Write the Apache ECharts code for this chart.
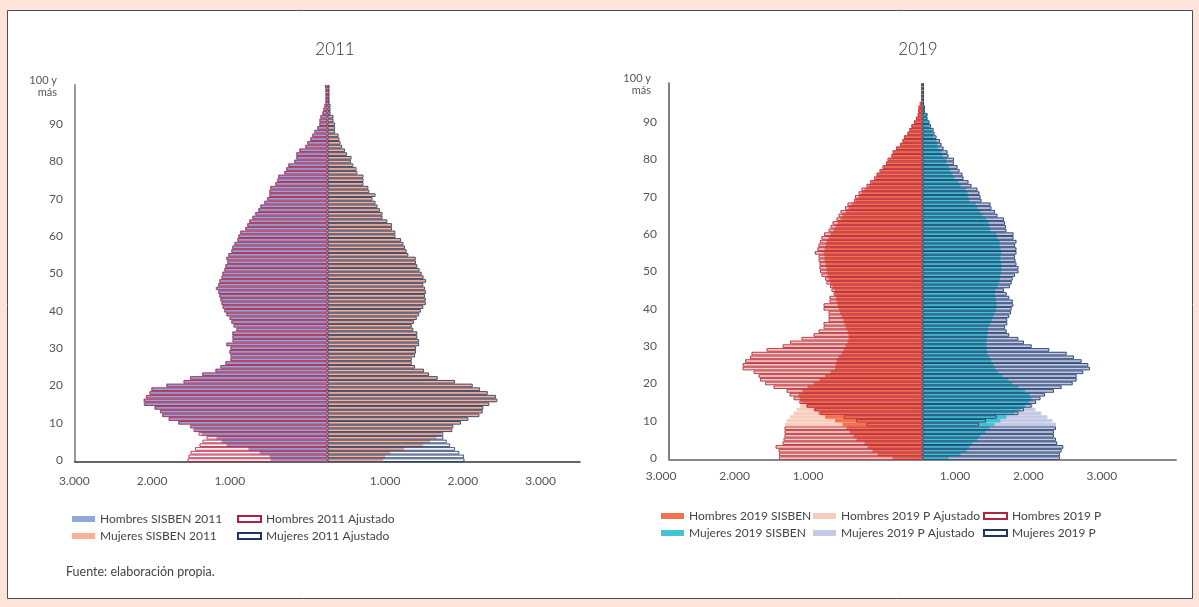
<!DOCTYPE html>
<html><head><meta charset="utf-8">
<script src="https://cdn.jsdelivr.net/npm/echarts@6/dist/echarts.min.js"></script>
<style>html,body{margin:0;padding:0;background:#fde3da;}#c{width:1199px;height:607px;}</style>
</head><body><div id="c"></div>
<script>
// Categories: single years of age 0..100 ("100 y más")
const ages = [];
for (let a = 0; a <= 100; a++) ages.push(String(a));

const titles = ['2011', '2019'];
const xTickValues = [-3000, -2000, -1000, 1000, 2000, 3000];

// ---- 2011 (ages 0..100) ----
const hombresSisben2011 = [734,746,875,1017,1300,1364,1429,1622,1712,1763,
 1925,2040,2130,2150,2230,2365,2370,2330,2290,2270,
 2075,1850,1765,1615,1445,1380,1318,1250,1245,1265,
 1250,1305,1220,1225,1228,1175,1205,1240,1258,1302,
 1330,1348,1366,1380,1395,1410,1440,1408,1392,1366,
 1355,1330,1318,1292,1305,1280,1240,1228,1200,1163,
 1150,1126,1062,1036,1010,970,935,895,868,818,
 780,752,752,740,675,652,636,560,535,508,
 432,405,405,366,290,262,225,198,172,134,
 108,106,92,68,54,42,28,28,26,26,32];
const hombres2011Ajustado = [1802,1789,1763,1705,1647,1609,1557,1660,1725,1770,
 1918,2046,2124,2156,2220,2355,2362,2336,2291,2265,
 2072,1853,1770,1609,1441,1377,1313,1248,1248,1261,
 1248,1300,1223,1223,1223,1171,1210,1236,1261,1300,
 1326,1351,1364,1377,1390,1403,1429,1403,1390,1364,
 1351,1326,1313,1287,1300,1274,1236,1223,1197,1158,
 1145,1120,1055,1030,1004,965,927,888,862,811,
 772,746,746,734,669,644,631,553,528,502,
 425,399,399,360,283,257,219,193,167,129,
 103,103,90,64,51,39,26,26,26,26,32];
const mujeresSisben2011 = [716,740,811,985,1233,1319,1403,1467,1595,1612,
 1710,1805,1948,1990,2000,2075,2178,2160,2055,1958,
 1862,1636,1412,1300,1236,1120,1080,1078,1120,1134,
 1134,1172,1172,1150,1150,1098,1080,1108,1142,1172,
 1195,1228,1258,1258,1250,1262,1250,1228,1262,1230,
 1205,1178,1150,1132,1128,1034,1012,990,968,938,
 866,864,820,820,760,698,698,666,634,606,
 566,604,525,512,450,450,448,370,360,318,
 288,295,238,212,176,156,144,132,88,88,
 88,70,70,34,34,34,22,22,22,22,22];
const mujeres2011Ajustado = [1763,1757,1696,1641,1577,1534,1490,1490,1606,1619,
 1718,1812,1954,1997,2005,2082,2185,2169,2062,1963,
 1869,1641,1418,1306,1242,1126,1084,1084,1126,1139,
 1139,1178,1178,1156,1156,1104,1084,1113,1148,1178,
 1200,1233,1264,1264,1255,1268,1255,1233,1268,1236,
 1212,1184,1156,1139,1135,1040,1019,997,976,946,
 875,873,830,830,770,708,708,676,644,618,
 579,618,538,525,463,463,463,384,373,332,
 302,309,251,225,187,167,154,142,97,97,
 97,77,77,39,39,39,26,26,26,26,26];

// ---- 2019 (ages 0..100) ----
const hombres2019Sisben = [408,612,680,748,789,898,938,986,1034,1088,
 1190,1326,1414,1482,1578,1646,1673,1686,1632,1564,
 1482,1401,1326,1251,1190,1183,1170,1142,1102,1074,
 1047,1020,1006,1006,1020,1047,1061,1074,1102,1122,
 1142,1156,1170,1176,1190,1197,1224,1258,1278,1292,
 1306,1306,1319,1333,1333,1346,1333,1319,1306,1278,
 1251,1210,1183,1156,1115,1088,1047,1006,966,911,
 870,830,789,734,694,639,612,571,530,490,
 462,422,394,354,299,272,245,204,177,150,
 116,88,68,61,61,41,14,14,14,14,14];
const hombres2019PAjustado = [1952,1952,1958,1999,1904,1890,1877,1877,1877,1870,
 1850,1802,1754,1714,1666,1686,1754,1809,1850,2026,
 2142,2210,2230,2298,2448,2448,2414,2346,2326,2122,
 1904,1802,1646,1482,1414,1346,1346,1278,1278,1278,
 1346,1346,1265,1265,1210,1238,1258,1306,1326,1374,
 1394,1401,1401,1414,1414,1475,1440,1420,1400,1380,
 1340,1278,1251,1224,1170,1142,1115,1054,1020,932,
 918,870,830,762,714,660,626,585,544,496,
 476,422,408,360,306,272,252,204,177,150,
 116,88,61,54,41,27,20,20,20,20,20];
const hombres2019P = [1952,1952,1958,1999,1904,1890,1877,1877,1877,762,
 904,1074,1387,1469,1578,1673,1754,1809,1850,2026,
 2142,2210,2230,2298,2448,2448,2414,2346,2326,2122,
 1904,1802,1646,1482,1414,1346,1346,1278,1278,1278,
 1346,1346,1265,1265,1210,1238,1258,1306,1326,1374,
 1394,1401,1401,1414,1414,1462,1428,1414,1394,1374,
 1340,1278,1251,1224,1170,1142,1115,1054,1020,932,
 918,870,830,762,714,660,626,585,544,496,
 476,422,408,360,306,272,252,204,177,150,
 116,88,61,54,41,27,20,20,20,20,20];
const mujeres2019Sisben = [354,517,598,639,680,748,789,857,911,979,
 1061,1142,1251,1333,1401,1455,1482,1455,1394,1306,
 1224,1170,1088,1034,993,966,938,911,884,877,
 870,870,877,884,891,898,925,945,966,986,
 1006,1006,1006,993,986,993,1020,1040,1054,1061,
 1074,1074,1074,1061,1061,1074,1061,1047,1054,1020,
 1006,925,911,898,870,816,789,748,721,639,
 626,612,585,517,490,435,408,381,360,326,
 326,272,258,218,204,190,150,136,122,95,
 82,61,61,27,27,20,14,14,14,14,14];
const mujeres2019PAjustado = [1870,1870,1893,1915,1833,1816,1788,1788,1816,1816,
 1768,1700,1618,1537,1496,1550,1605,1666,1788,1893,
 2043,2097,2097,2187,2278,2255,2165,2060,1961,1724,
 1485,1380,1303,1180,1145,1122,1153,1153,1180,1204,
 1213,1235,1227,1180,1145,1108,1190,1213,1227,1258,
 1306,1306,1278,1265,1258,1278,1278,1258,1278,1238,
 1238,1142,1136,1122,1108,1020,986,938,925,802,
 789,775,748,666,626,558,544,503,476,428,
 428,354,340,286,258,238,190,163,150,116,
 95,68,68,34,34,20,20,20,20,20,20];
const mujeres2019P = [1870,1870,1893,1915,1833,1816,1788,1788,1816,768,
 864,1009,1303,1380,1485,1544,1605,1666,1788,1893,
 2043,2097,2097,2187,2278,2255,2165,2060,1961,1724,
 1485,1380,1303,1180,1145,1122,1153,1153,1180,1204,
 1213,1235,1227,1180,1145,1108,1190,1213,1227,1258,
 1306,1306,1278,1265,1258,1278,1278,1258,1278,1238,
 1238,1142,1136,1122,1108,1020,986,938,925,802,
 789,775,748,666,626,558,544,503,476,428,
 428,354,340,286,258,238,190,163,150,116,
 95,68,68,34,34,20,20,20,20,20,20];

const FONT = 'Lato';
const neg = arr => arr.map(v => -v);

function xFmt(v) {
  if (xTickValues.indexOf(v) < 0) return '';
  return (Math.abs(v) / 1000) + '.000';
}
function yFmt(v, i) {
  return i === 100 ? '{t|100 y}\n{t|más}' : v;
}

function xAxis(grid, lim, step, pad, margin, lineColor, lineWidth) {
  return {
    gridIndex: grid, type: 'value', min: -lim, max: lim, interval: step,
    axisLine: { show: true, lineStyle: { color: lineColor, width: lineWidth } },
    axisTick: { show: false }, splitLine: { show: false },
    axisLabel: { formatter: xFmt, color: '#555', fontSize: 12, fontFamily: FONT,
      margin: margin, padding: [0, pad, 0, 0] }
  };
}
function yAxis(grid, lineColor, lineWidth) {
  return {
    gridIndex: grid, type: 'category', data: ages,
    axisLine: { show: true, onZero: false, lineStyle: { color: lineColor, width: lineWidth } },
    axisTick: { show: false }, splitLine: { show: false },
    axisLabel: { interval: 9, formatter: yFmt, color: '#555', fontSize: 12, fontFamily: FONT, margin: 12,
      rich: { t: { fontSize: 11, fontFamily: FONT, color: '#555', lineHeight: 12, padding: [0, 6, 0, 0] } } }
  };
}
function bar(name, grid, data, fill, stroke) {
  const s = {
    name: name, type: 'bar', xAxisIndex: grid, yAxisIndex: grid, data: data,
    barGap: '-100%', barCategoryGap: '6%', silent: true,
    itemStyle: { color: fill }
  };
  if (stroke) {
    s.itemStyle = { color: 'rgba(255,255,255,0)', borderColor: stroke, borderWidth: 0.85 };
  }
  return s;
}
function legend(left, top, names) {
  return {
    orient: 'vertical', left: left, top: top, padding: 0, itemGap: 5,
    itemWidth: 23, itemHeight: 6, icon: 'rect', selectedMode: false, data: names,
    textStyle: { fontSize: 12, color: '#444', fontFamily: FONT }
  };
}

const C = {
  h11: '#8ea7dc', m11: '#f9b297', h11o: '#b81c40', m11o: '#1e3766',
  h19: '#f3714f', m19: '#3fc3d5', h19a: '#f9cdbd', m19a: '#c4cae5', h19o: '#b3243f', m19o: '#1e3766'
};

const option = {
  animation: false,
  backgroundColor: '#fde3da',
  graphic: [
    { type: 'rect', shape: { x: 7.5, y: 10.5, width: 1185, height: 588 },
      style: { fill: '#ffffff', stroke: '#4d4d4d', lineWidth: 1 }, z: -10, silent: true },
    { type: 'text', left: 66, top: 565, silent: true,
      style: { text: 'Fuente: elaboración propia.', fill: '#444', fontSize: 12.5, fontFamily: FONT } }
  ],
  title: [
    { text: titles[0], left: 330, top: 36, textAlign: 'center',
      textStyle: { fontSize: 17, fontWeight: 300, color: '#333', fontFamily: FONT } },
    { text: titles[1], left: 913, top: 36, textAlign: 'center',
      textStyle: { fontSize: 17, fontWeight: 300, color: '#333', fontFamily: FONT } }
  ],
  grid: [
    { left: 75, right: 619, top: 85, bottom: 145 },
    { left: 669, right: 23, top: 83, bottom: 147 }
  ],
  xAxis: [ xAxis(0, 3250, 250, 40, 13, '#333', 1.5), xAxis(1, 3450, 50, 82, 10, '#888', 2) ],
  yAxis: [ yAxis(0, '#999', 2), yAxis(1, '#555', 1.5) ],
  legend: [
    legend(72, 513, ['Hombres SISBEN 2011', 'Mujeres SISBEN 2011']),
    legend(237, 513, ['Hombres 2011 Ajustado', 'Mujeres 2011 Ajustado']),
    legend(661, 510, ['Hombres 2019 SISBEN', 'Mujeres 2019 SISBEN']),
    legend(813, 510, ['Hombres 2019 P Ajustado', 'Mujeres 2019 P Ajustado']),
    legend(983, 510, ['Hombres 2019 P', 'Mujeres 2019 P'])
  ],
  series: [
    bar('Hombres SISBEN 2011', 0, neg(hombresSisben2011), C.h11),
    bar('Mujeres SISBEN 2011', 0, mujeresSisben2011, C.m11),
    bar('Hombres 2011 Ajustado', 0, neg(hombres2011Ajustado), null, C.h11o),
    bar('Mujeres 2011 Ajustado', 0, mujeres2011Ajustado, null, C.m11o),
    bar('Hombres 2019 P Ajustado', 1, neg(hombres2019PAjustado), C.h19a),
    bar('Mujeres 2019 P Ajustado', 1, mujeres2019PAjustado, C.m19a),
    bar('Hombres 2019 SISBEN', 1, neg(hombres2019Sisben), C.h19),
    bar('Mujeres 2019 SISBEN', 1, mujeres2019Sisben, C.m19),
    bar('Hombres 2019 P', 1, neg(hombres2019P), null, C.h19o),
    bar('Mujeres 2019 P', 1, mujeres2019P, null, C.m19o)
  ]
};

const chart = echarts.init(document.getElementById('c'));
chart.setOption(option);
</script>
</body></html>
